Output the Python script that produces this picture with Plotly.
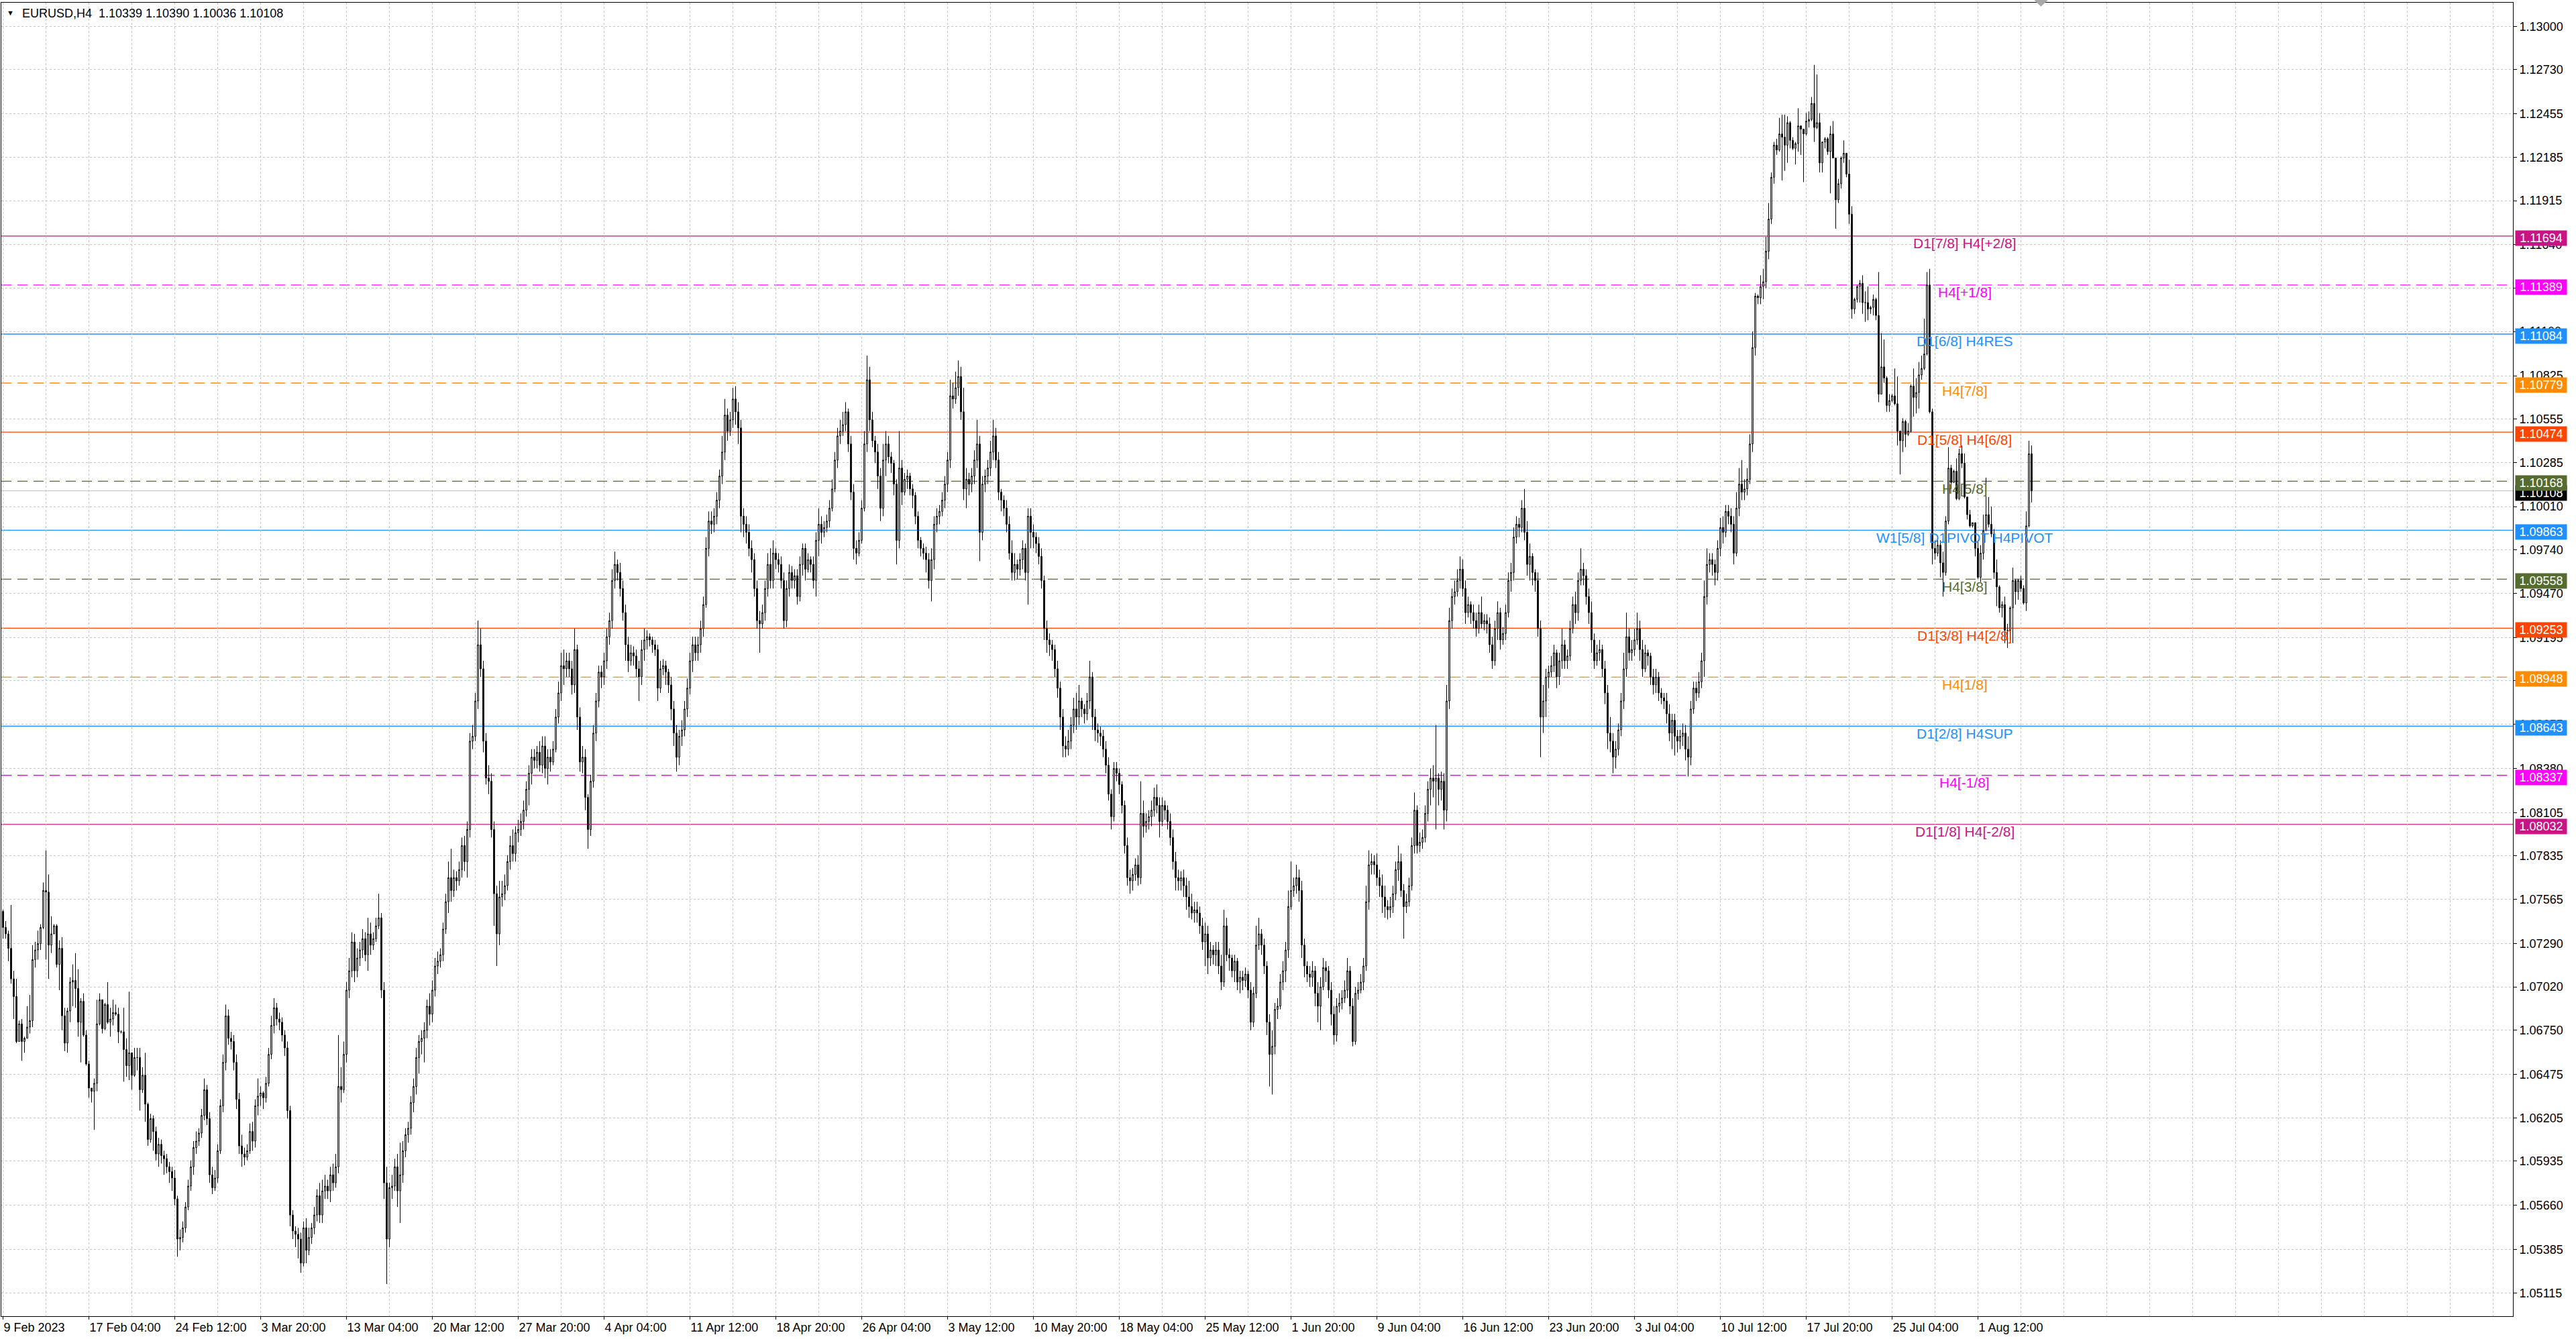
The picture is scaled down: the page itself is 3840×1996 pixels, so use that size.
import plotly.graph_objects as go

# ---------------- data (prices in pips above 1.0000) ----------------
first_open_pips = 749

close_pips = [
    739,735,726,707,696,668,679,668,670,677,
    681,719,725,729,739,762,761,728,735,740,
    716,726,684,667,687,705,706,701,680,693,
    672,654,639,637,642,679,694,676,691,680,
    682,686,685,674,674,663,653,661,647,658,
    658,638,647,629,607,620,612,598,604,597,
    595,590,587,583,570,545,546,552,565,578,
    590,602,606,611,622,638,620,585,577,583,
    600,628,655,684,670,668,655,632,603,598,
    596,600,612,606,628,634,636,633,642,660,
    678,689,682,680,672,664,625,560,550,548,
    545,530,552,538,546,552,560,572,560,575,
    578,575,585,580,590,640,638,660,700,712,
    730,712,720,725,732,722,735,728,732,740,
    745,700,580,545,577,578,590,575,585,600,
    610,614,630,640,658,668,670,675,690,685,
    700,715,718,722,738,755,770,762,770,768,
    775,790,780,800,855,858,880,915,900,855,
    832,830,800,760,735,758,760,765,780,790,
    785,798,800,805,812,825,835,845,843,848,
    840,852,838,845,842,850,870,885,902,900,
    905,900,890,912,870,842,845,820,800,830,
    860,880,898,895,905,920,930,955,965,960,
    950,935,915,905,910,908,900,895,912,918,
    920,918,915,912,888,900,902,898,890,875,
    860,845,858,862,875,888,905,915,910,915,
    925,940,975,992,990,995,1005,1020,1035,1058,
    1048,1055,1068,1060,1050,995,990,985,975,968,
    950,930,928,935,950,965,955,972,968,965,
    955,930,950,960,955,958,945,965,975,962,
    968,965,955,980,990,985,988,992,1000,1012,
    1030,1045,1048,1052,1060,1040,1010,975,972,980,
    1000,1040,1080,1055,1042,1035,1020,1000,1030,1040,
    1032,1028,1015,980,1025,1010,1018,1020,1012,1008,
    995,980,975,972,968,955,968,990,995,998,
    1005,1015,1030,1070,1068,1075,1082,1060,1012,1018,
    1015,1020,1030,1040,985,1015,1020,1025,1035,1045,
    1030,1010,1005,1000,990,972,960,965,962,968,
    975,960,995,985,982,978,970,955,925,918,
    915,912,900,888,870,852,850,855,865,875,
    870,880,875,872,880,895,870,862,860,858,
    850,840,822,808,838,835,828,815,790,770,
    768,772,778,770,810,802,805,808,812,820,
    815,805,815,812,805,795,780,770,768,770,
    765,758,752,748,750,748,740,730,735,720,
    725,722,725,715,705,740,722,720,712,718,
    705,708,706,710,700,680,698,728,735,728,
    715,680,660,665,688,690,705,712,725,752,
    762,765,770,762,728,715,710,708,712,698,
    690,702,714,712,700,685,672,690,692,695,
    700,712,690,668,698,700,705,715,755,778,
    780,778,770,765,758,752,750,752,760,775,
    780,762,752,755,765,790,812,790,792,795,
    810,825,832,830,832,825,830,812,880,930,
    945,948,955,962,950,935,940,935,930,925,
    935,928,930,928,915,905,925,935,918,922,
    935,955,960,982,990,988,1000,985,965,970,
    960,955,925,870,880,895,898,902,910,895,
    905,915,905,908,925,940,935,955,962,958,
    945,935,918,905,910,912,900,885,860,855,
    845,850,862,880,900,920,910,912,918,925,
    912,900,910,908,895,890,895,885,882,880,
    872,860,868,858,855,858,860,850,845,875,
    888,885,892,905,945,965,968,965,960,975,
    988,985,998,995,990,972,1000,1015,1010,1012,
    1018,1040,1100,1132,1131,1138,1141,1160,1180,1206,
    1226,1223,1233,1231,1226,1240,1229,1224,1227,1238,
    1236,1233,1241,1242,1252,1237,1240,1215,1228,1230,
    1222,1233,1218,1192,1202,1218,1221,1208,1183,1124,
    1130,1138,1140,1128,1128,1124,1125,1130,1120,1071,
    1088,1081,1064,1067,1070,1065,1048,1042,1054,1046,
    1048,1076,1069,1072,1083,1087,1096,1139,1060,975,
    972,977,966,960,992,1025,1016,1023,1006,1034,
    1028,1007,996,989,991,975,957,972,986,996,
    990,984,960,951,938,940,924,924,938,955,
    948,955,950,941,989,1033.9,1010.8,
]

high_pips = [
    750,743,737,753,712,707,681,682,671,690,
    697,728,730,737,741,767,787,772,746,741,
    741,731,733,689,689,708,716,723,713,695,
    698,675,656,639,645,694,698,687,692,705,
    689,694,691,689,675,689,670,699,661,664,
    664,664,652,661,630,623,622,615,608,607,
    600,598,593,590,588,572,551,556,568,582,
    594,606,612,614,626,645,641,624,590,588,
    604,632,660,691,688,674,672,660,636,610,
    602,604,617,618,632,645,640,637,646,664,
    684,695,692,686,683,675,668,628,563,553,
    552,549,556,558,552,555,565,576,580,582,
    585,582,590,592,598,672,652,668,705,720,
    736,735,726,730,738,736,745,742,736,745,
    760,748,705,590,580,585,595,598,605,606,
    614,618,634,645,664,672,675,680,694,698,
    706,720,724,726,742,760,780,788,775,774,
    780,795,796,805,860,865,885,930,925,905,
    860,840,835,805,765,768,768,772,784,796,
    800,802,806,810,818,830,840,850,850,852,
    855,858,858,850,850,855,875,892,910,912,
    910,910,905,925,915,876,852,850,822,834,
    865,885,902,902,910,925,935,962,973,968,
    966,955,940,920,915,914,912,905,918,925,
    924,922,920,918,915,905,906,905,900,895,
    880,865,862,868,880,894,910,920,920,920,
    930,945,982,998,998,1000,1010,1024,1045,1068,
    1062,1060,1075,1076,1066,1055,1000,995,990,980,
    972,955,936,940,955,972,975,980,975,972,
    970,960,955,965,964,962,962,970,978,978,
    972,970,970,985,1000,995,992,996,1005,1018,
    1035,1050,1055,1060,1066,1062,1045,1015,980,985,
    1005,1048,1095,1088,1060,1045,1040,1025,1040,1048,
    1045,1035,1030,1018,1048,1030,1022,1024,1022,1015,
    1010,998,982,978,976,972,975,995,1000,1002,
    1010,1020,1035,1080,1078,1085,1092,1088,1075,1025,
    1022,1025,1036,1055,1045,1020,1024,1030,1042,1055,
    1050,1035,1012,1008,1005,995,980,972,968,972,
    980,978,1000,1000,990,985,982,975,958,930,
    922,918,915,905,892,875,858,862,870,882,
    885,890,882,878,885,905,898,875,866,864,
    862,855,845,825,842,842,838,830,818,795,
    775,776,782,784,830,818,810,812,818,826,
    828,820,820,818,815,810,800,786,775,774,
    775,770,768,760,755,755,752,745,742,740,
    730,728,730,730,722,750,745,726,722,722,
    720,712,712,714,712,705,702,740,745,738,
    732,718,685,675,692,695,710,718,730,762,
    780,770,778,775,768,732,718,715,718,715,
    705,708,720,718,715,705,690,695,698,700,
    706,720,715,695,702,705,710,720,765,787,
    785,784,785,775,772,765,756,758,765,780,
    790,785,766,760,770,795,823,815,798,800,
    815,830,838,840,865,835,836,835,890,938,
    950,955,962,970,968,955,945,942,940,935,
    940,945,934,934,932,920,930,942,938,926,
    940,960,966,988,995,994,1005,1012,992,978,
    972,962,960,930,890,900,902,908,915,912,
    910,925,918,912,930,945,948,960,975,966,
    962,950,942,922,915,918,915,905,890,870,
    860,855,866,885,910,935,925,918,925,935,
    930,918,915,912,910,900,900,898,888,885,
    885,878,872,872,862,862,866,865,858,880,
    892,892,898,910,955,975,972,972,968,980,
    994,995,1002,1002,1000,995,1010,1025,1030,1018,
    1025,1046,1110,1134,1133,1145,1149,1169,1190,1209,
    1228,1230,1243,1245,1245,1244,1241,1231,1228,1249,
    1238,1236,1246,1247,1256,1276,1270,1246,1228,1231,
    1231,1238,1241,1218,1205,1219,1229,1221,1217,1188,
    1131,1139,1142,1145,1135,1138,1126,1133,1131,1147,
    1109,1105,1082,1071,1071,1087,1082,1048,1056,1055,
    1053,1077,1087,1081,1091,1095,1118,1147,1149,1062,
    980,980,980,973,995,1038,1027,1024,1031,1037,
    1039,1034,1005,999,991,991,980,977,996,1019,
    1007,1001,987,968,952,942,945,928,939,963,
    956,956,958,952,998,1042,1039.0,
]

low_pips = [
    732,732,718,704,682,667,668,656,661,670,
    673,677,714,719,725,738,719,707,723,736,
    714,700,675,662,661,680,690,689,671,655,
    671,653,633,630,613,637,678,673,675,679,
    671,678,684,667,673,643,646,644,638,646,
    650,625,636,618,603,605,600,594,590,592,
    585,586,580,575,566,534,538,543,549,563,
    575,585,598,603,608,619,616,580,573,575,
    580,598,624,650,666,663,650,626,598,590,
    591,594,598,600,602,622,628,626,630,640,
    657,673,678,675,668,659,620,553,545,540,
    533,524,528,530,535,542,548,556,555,555,
    570,570,568,575,577,586,630,636,655,695,
    708,705,708,715,720,718,712,722,725,730,
    738,695,570,517,540,570,575,565,555,580,
    596,605,610,624,635,648,660,655,670,678,
    680,696,710,714,718,735,748,755,758,762,
    765,770,774,770,795,850,855,875,895,848,
    828,822,795,740,715,728,752,756,762,775,
    780,780,792,796,800,808,815,828,838,838,
    836,835,832,828,836,840,848,866,880,890,
    895,895,884,885,862,836,835,812,788,796,
    826,855,876,888,890,900,915,925,950,955,
    945,930,905,898,902,902,895,880,890,905,
    912,914,910,908,880,885,896,890,885,868,
    852,836,840,852,858,870,884,898,905,905,
    910,920,938,970,984,985,990,1000,1015,1030,
    1042,1045,1050,1052,1040,985,982,978,970,960,
    945,925,910,925,930,945,950,950,962,960,
    950,925,926,945,950,950,940,942,958,955,
    960,960,950,945,970,978,982,985,988,998,
    1010,1025,1040,1045,1048,1035,1005,968,965,970,
    978,998,1035,1048,1038,1028,1012,992,995,1020,
    1028,1022,1008,965,975,1002,1008,1012,1008,1000,
    990,975,970,968,960,950,942,962,985,990,
    995,1000,1010,1025,1062,1065,1070,1055,1005,1000,
    1008,1010,1015,1025,967,980,1010,1015,1020,1030,
    1025,1005,998,995,985,968,955,955,956,958,
    962,955,940,975,975,972,965,950,918,910,
    908,905,895,882,862,845,845,846,850,860,
    862,865,870,866,868,875,862,855,854,852,
    845,835,818,800,805,830,822,810,785,765,
    760,762,768,765,766,795,798,800,802,808,
    810,795,802,806,800,790,775,762,762,762,
    758,750,745,744,742,742,735,725,715,710,
    715,716,715,710,700,702,718,712,708,705,
    700,698,700,702,695,675,677,695,725,722,
    710,672,640,635,660,682,688,700,705,720,
    750,758,760,755,720,708,705,702,702,690,
    680,675,700,705,695,678,666,668,686,688,
    692,695,685,665,666,694,698,700,712,750,
    772,772,765,758,748,745,744,745,748,756,
    768,758,732,748,752,762,785,785,786,788,
    792,805,815,820,800,815,818,800,805,875,
    925,940,945,950,945,928,932,928,925,920,
    922,925,924,922,910,900,902,918,912,915,
    918,932,948,955,978,982,985,980,958,955,
    952,948,920,845,860,870,888,895,898,888,
    890,900,900,900,905,922,928,930,952,952,
    940,928,910,900,902,905,895,878,850,848,
    835,838,846,858,875,895,905,905,908,915,
    905,895,898,902,890,884,885,880,878,875,
    866,855,850,846,848,850,852,843,833,840,
    872,880,882,888,895,940,960,958,952,955,
    970,978,982,990,985,965,970,995,1005,1005,
    1008,1015,1035,1095,1127,1127,1130,1137,1155,1177,
    1202,1220,1222,1204,1210,1215,1224,1223,1214,1222,
    1220,1203,1232,1237,1241,1228,1236,1209,1209,1224,
    1220,1196,1218,1174,1190,1199,1215,1206,1177,1118,
    1121,1128,1128,1121,1116,1117,1121,1120,1117,1066,
    1071,1078,1060,1060,1066,1064,1039,1021,1035,1038,
    1045,1047,1057,1059,1062,1080,1086,1095,1059,965,
    968,970,957,945,958,990,1012,1016,1005,1005,
    1025,1006,993,988,988,970,956,954,968,986,
    988,982,956,939,935,932,916,913,918,916,
    940,943,948,940,936,988,1003.6,
]

# x-axis date labels: one every 32 H4 bars, starting at bar 0
date_tick_bars = [0, 32, 64, 96, 128, 160, 192, 224, 256, 288, 320, 352,
                  384, 416, 448, 480, 512, 544, 576, 608, 640, 672, 704, 736]
date_tick_text = ["9 Feb 2023", "17 Feb 04:00", "24 Feb 12:00", "3 Mar 20:00",
                  "13 Mar 04:00", "20 Mar 12:00", "27 Mar 20:00", "4 Apr 04:00",
                  "11 Apr 12:00", "18 Apr 20:00", "26 Apr 04:00", "3 May 12:00",
                  "10 May 20:00", "18 May 04:00", "25 May 12:00", "1 Jun 20:00",
                  "9 Jun 04:00", "16 Jun 12:00", "23 Jun 20:00", "3 Jul 04:00",
                  "10 Jul 12:00", "17 Jul 20:00", "25 Jul 04:00", "1 Aug 12:00"]

price_ticks = [1.13000, 1.12730, 1.12455, 1.12185, 1.11915, 1.11640, 1.11370,
               1.11100, 1.10825, 1.10555, 1.10285, 1.10010, 1.09740, 1.09470,
               1.09195, 1.08925, 1.08655, 1.08380, 1.08105, 1.07835, 1.07565,
               1.07290, 1.07020, 1.06750, 1.06475, 1.06205, 1.05935, 1.05660,
               1.05385, 1.05115]

level_prices = [1.11694, 1.11389, 1.11084, 1.10779, 1.10474, 1.10168, 1.09863,
                1.09558, 1.09253, 1.08948, 1.08643, 1.08337, 1.08032]
level_names = ["D1[7/8] H4[+2/8]", "H4[+1/8]", "D1[6/8] H4RES", "H4[7/8]",
               "D1[5/8] H4[6/8]", "H4[5/8]", "W1[5/8] D1PIVOT H4PIVOT", "H4[3/8]",
               "D1[3/8] H4[2/8]", "H4[1/8]", "D1[2/8] H4SUP", "H4[-1/8]",
               "D1[1/8] H4[-2/8]"]
level_colors = ["#C71585", "#FF00FF", "#1E90FF", "#FF8C00", "#FF4500", "#556B2F",
                "#1E90FF", "#556B2F", "#FF4500", "#FF8C00", "#1E90FF", "#FF00FF",
                "#C71585"]
level_dashed = [False, True, False, True, False, True, False, True, False, True,
                False, True, False]

header_text = "EURUSD,H4  1.10339 1.10390 1.10036 1.10108"

# ---------------- build OHLC ----------------
n = min(len(close_pips), len(high_pips), len(low_pips))
close = [1 + v / 10000 for v in close_pips[:n]]
opens = [1 + first_open_pips / 10000] + close[:-1]
high = [max(1 + h / 10000, o, c) for h, o, c in zip(high_pips[:n], opens, close)]
low = [min(1 + l / 10000, o, c) for l, o, c in zip(low_pips[:n], opens, close)]
xs = list(range(n))
last_close = close[-1]

FONT = "Liberation Sans, Arial, sans-serif"
GRID = "#C4C4C4"

fig = go.Figure()
fig.add_trace(go.Candlestick(
    x=xs, open=opens, high=high, low=low, close=close,
    increasing=dict(line=dict(color="black", width=1), fillcolor="white"),
    decreasing=dict(line=dict(color="black", width=1), fillcolor="black"),
    whiskerwidth=0, showlegend=False, hoverinfo="skip",
))

shapes = []
# bid line
shapes.append(dict(type="line", xref="paper", x0=0, x1=1, yref="y",
                   y0=last_close, y1=last_close, layer="between",
                   line=dict(color="#C0C0C0", width=1)))
for p, c, d in zip(level_prices, level_colors, level_dashed):
    shapes.append(dict(type="line", xref="paper", x0=0, x1=1, yref="y", y0=p, y1=p,
                       layer="between",
                       line=dict(color=c, width=1.3, dash="15px,9px" if d else "solid")))
# chart-shift marker at top
shapes.append(dict(type="path", xref="x", yref="paper",
                   path="M 756.5,1.003 L 762.5,1.003 L 759.5,0.997 Z",
                   fillcolor="#A8A8A8", line=dict(width=0)))

annotations = []
# level names on the chart
for p, name, c in zip(level_prices, level_names, level_colors):
    annotations.append(dict(x=731, y=p, xref="x", yref="y", text=name,
                            showarrow=False, xanchor="center", yanchor="middle",
                            yshift=-11, font=dict(family=FONT, size=21, color=c)))
# bid price box (mostly hidden)
annotations.append(dict(x=1, y=last_close, xref="paper", yref="y",
                        text=f"{last_close:.5f}", showarrow=False, xanchor="left",
                        yanchor="middle", xshift=3, yshift=-3, bgcolor="black",
                        width=72, height=18, borderpad=2, align="center",
                        font=dict(family=FONT, size=18, color="white")))
# level price boxes on the axis
for p, c in zip(level_prices, level_colors):
    annotations.append(dict(x=1, y=p, xref="paper", yref="y", text=f"{p:.5f}",
                            showarrow=False, xanchor="left", yanchor="middle",
                            xshift=3, yshift=-3, bgcolor=c, width=72, height=18,
                            borderpad=2, align="center",
                            font=dict(family=FONT, size=18, color="white")))
# header
annotations.append(dict(x=0, y=1, xref="paper", yref="paper", text="\u25BC",
                        showarrow=False, xanchor="left", yanchor="top",
                        xshift=6, yshift=-7, font=dict(family=FONT, size=11, color="black")))
annotations.append(dict(x=0, y=1, xref="paper", yref="paper", text=header_text,
                        showarrow=False, xanchor="left", yanchor="top",
                        xshift=29, yshift=-4, font=dict(family=FONT, size=18, color="black")))

fig.update_layout(
    width=3840, height=1996,
    margin=dict(l=2, r=94, t=4, b=34),
    paper_bgcolor="white", plot_bgcolor="white",
    boxgap=0.38,
    showlegend=False,
    shapes=shapes, annotations=annotations,
    font=dict(family=FONT, size=18, color="black"),
    xaxis=dict(
        type="linear", range=[-0.625, 935.375], rangeslider=dict(visible=False),
        tickmode="array", tickvals=date_tick_bars, ticktext=date_tick_text,
        ticks="outside", ticklen=4, tickcolor="black", tickwidth=1,
        ticklabelposition="outside right",
        tickfont=dict(family=FONT, size=18, color="black"),
        showgrid=True, gridcolor=GRID, gridwidth=1, griddash="3px,3px",
        minor=dict(tick0=0, dtick=16, showgrid=True, gridcolor=GRID,
                   gridwidth=1, griddash="3px,3px", ticks=""),
        showline=True, linecolor="black", linewidth=1, mirror=True,
        zeroline=False, fixedrange=True,
    ),
    yaxis=dict(
        side="right", range=[1.04970, 1.13147],
        tickmode="array", tickvals=price_ticks,
        ticktext=[f"{v:.5f}" for v in price_ticks],
        ticks="outside", ticklen=5, tickcolor="black", tickwidth=1,
        tickfont=dict(family=FONT, size=18, color="black"),
        showgrid=True, gridcolor=GRID, gridwidth=1, griddash="3px,3px",
        showline=True, linecolor="black", linewidth=1, mirror=True,
        zeroline=False, fixedrange=True,
    ),
)

fig.write_html("out.html",
               config={"displayModeBar": False, "staticPlot": True},
               post_script="document.body.style.margin='0px';"
                           "document.body.style.overflow='hidden';")
